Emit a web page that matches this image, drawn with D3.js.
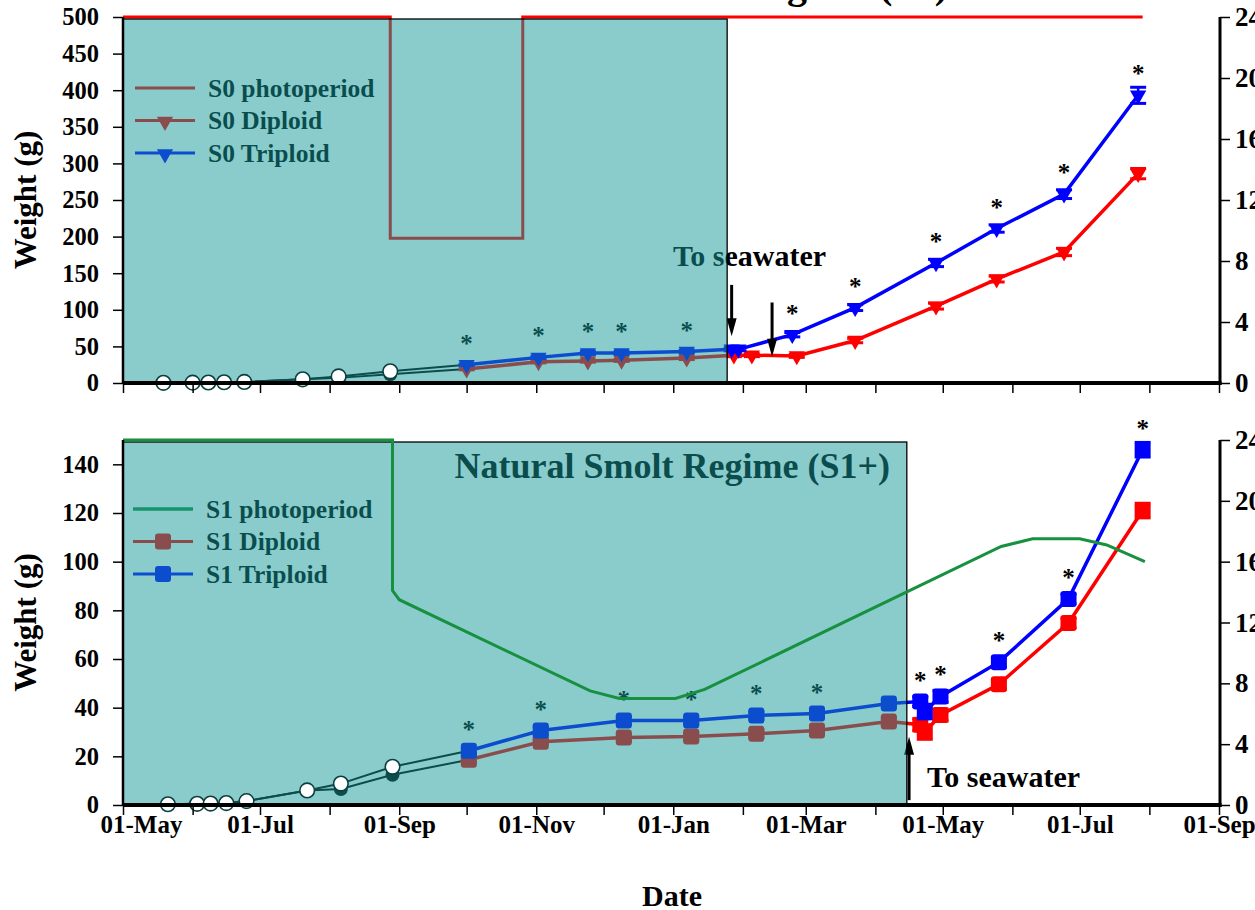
<!DOCTYPE html>
<html>
<head>
<meta charset="utf-8">
<script src="https://cdn.jsdelivr.net/npm/d3@7"></script>
<style>
body { margin: 0; overflow: hidden; background: #fff; }
text { font-family: "Liberation Serif", "Times New Roman", serif; font-weight: bold; }
</style>
</head>
<body>
<svg width="1255" height="910"></svg>
<script>
var parse = d3.timeParse("%Y-%m-%d");

// ---------- S0 panel (top) ----------
var s0PhotoDates = ["2000-05-01", "2000-08-28", "2000-08-28", "2000-10-26", "2000-10-26", "2001-07-29"];
var s0PhotoHours = [24, 24, 9.5, 9.5, 24, 24];

var s0EarlyDates = ["2000-05-19", "2000-06-01", "2000-06-08", "2000-06-15", "2000-06-24", "2000-07-20"];
var s0EarlyWeight = [0.3, 0.5, 0.7, 1, 1.5, 5];
var s0SplitDates = ["2000-08-05", "2000-08-28"];
var s0SplitDiploid = [7, 12];
var s0SplitTriploid = [9, 16];

var s0DipDates = ["2000-10-01", "2000-11-02", "2000-11-24", "2000-12-09", "2001-01-07", "2001-01-28", "2001-02-05", "2001-02-25", "2001-03-23", "2001-04-28", "2001-05-25", "2001-06-24", "2001-07-27"];
var s0DipWeight = [19, 29, 30, 31, 34, 38, 38, 37, 58, 105, 142, 179, 286];
var s0DipErr = [1, 1.5, 1.5, 1.5, 2, 2, 2, 2, 3, 4, 4, 5, 7];
var s0TriDates = ["2000-10-01", "2000-11-02", "2000-11-24", "2000-12-09", "2001-01-07", "2001-01-27", "2001-01-30", "2001-02-23", "2001-03-23", "2001-04-28", "2001-05-25", "2001-06-24", "2001-07-27"];
var s0TriWeight = [25, 35, 41, 41, 43, 46, 46, 66, 103, 164, 211, 258, 393];
var s0TriErr = [1, 1.5, 2, 2, 2, 2, 2, 3, 4, 5, 5, 6, 11];
var s0Stars = [1, 1, 1, 1, 1, 0, 0, 1, 1, 1, 1, 1, 1];

// ---------- S1 panel (bottom) ----------
var s1PhotoDates = ["2000-05-01", "2000-08-29", "2000-08-29", "2000-09-01", "2000-11-25", "2000-12-08", "2001-01-02", "2001-01-15", "2001-05-27", "2001-06-10", "2001-07-01", "2001-07-13", "2001-07-30"];
var s1PhotoHours = [24, 24, 14.1, 13.5, 7.5, 7.0, 7.0, 7.6, 17.0, 17.5, 17.5, 17.1, 16.0];

var s1EarlyDates = ["2000-05-21", "2000-06-03", "2000-06-09", "2000-06-16", "2000-06-25", "2000-07-22"];
var s1EarlyWeight = [0.3, 0.5, 0.6, 0.8, 1.6, 6];
var s1SplitDates = ["2000-08-06", "2000-08-29"];
var s1SplitDiploid = [6.6, 12.4];
var s1SplitTriploid = [8.8, 15.7];

var s1DipDates = ["2000-10-02", "2000-11-03", "2000-12-10", "2001-01-09", "2001-02-07", "2001-03-06", "2001-04-07", "2001-04-21", "2001-04-23", "2001-04-30", "2001-05-26", "2001-06-26", "2001-07-29"];
var s1DipWeight = [18.6, 26, 27.7, 28.1, 29.3, 30.6, 34.3, 33, 30, 37, 49.6, 74.8, 121];
var s1DipErr = [1, 1, 1.5, 1.5, 1.5, 1.5, 1.5, 2.5, 3, 2.5, 2, 2, 3];
var s1TriDates = ["2000-10-02", "2000-11-03", "2000-12-10", "2001-01-09", "2001-02-07", "2001-03-06", "2001-04-07", "2001-04-21", "2001-04-23", "2001-04-30", "2001-05-26", "2001-06-26", "2001-07-29"];
var s1TriWeight = [22.3, 30.6, 34.7, 34.7, 36.8, 37.6, 41.7, 42.5, 38.4, 44.6, 58.7, 84.7, 146];
var s1TriErr = [1, 1.5, 1.5, 1.5, 1.5, 1.5, 1.5, 2, 3, 2.5, 2, 2, 3];
var s1Stars = [1, 1, 1, 1, 1, 1, 0, 1, 0, 1, 1, 1, 1];

var monthFmt = d3.timeFormat("%d-%b");

// The svg
var svg = d3.select("svg");

var x = d3.scaleTime()
    .domain([parse("2000-05-01"), parse("2001-09-01")])
    .range([123, 1219]);

var overlay = "rgba(22,154,154,0.5)";
var ringStroke = "#0b3f3f";

function zip(dates, vals, errs) {
    return dates.map(function (d, i) {
        return { date: parse(d), v: vals[i], e: errs ? errs[i] : 0 };
    });
}

function panel(p) {
    var g = svg.append("g");
    var yW = d3.scaleLinear().domain([0, p.wMax]).range([p.bottom, p.top]);
    var yH = d3.scaleLinear().domain([0, 24]).range([p.bottom, p.top]);
    var lineW = d3.line().x(function (d) { return x(d.date); }).y(function (d) { return yW(d.v); });
    var lineH = d3.line().x(function (d) { return x(d.date); }).y(function (d) { return yH(d.v); });

    var photo = zip(p.photoDates, p.photoHours);

    // photoperiod under the shading (S0)
    if (!p.photoOnTop) {
        g.append("path").attr("d", lineH(photo))
            .attr("fill", "none").attr("stroke", p.photoColor).attr("stroke-width", 3);
    }

    // freshwater early samples (shared then split)
    var early = zip(p.earlyDates, p.earlyWeight);
    var dip = zip(p.dipDates, p.dipWeight, p.dipErr);
    var tri = zip(p.triDates, p.triWeight, p.triErr);
    var splitD = zip(p.splitDates, p.splitDip);
    var splitT = zip(p.splitDates, p.splitTri);

    g.append("path").attr("d", lineW(early.concat(splitD, [dip[0]])))
        .attr("fill", "none").attr("stroke", "#000").attr("stroke-width", 2);
    g.append("path").attr("d", lineW(early.concat(splitT, [tri[0]])))
        .attr("fill", "none").attr("stroke", "#000").attr("stroke-width", 2);
    g.selectAll(".fill-dot").data(splitD).enter().append("circle")
        .attr("cx", function (d) { return x(d.date); })
        .attr("cy", function (d) { return yW(d.v); })
        .attr("r", 7).attr("fill", "#000");

    // tank series
    function series(data, color, shape) {
        g.append("path").attr("d", lineW(data))
            .attr("fill", "none").attr("stroke", color).attr("stroke-width", 3.5);
        var eb = g.append("g");
        data.forEach(function (d) {
            var cx = x(d.date), y1 = yW(d.v + d.e), y2 = yW(d.v - d.e);
            eb.append("line").attr("x1", cx).attr("x2", cx).attr("y1", y1).attr("y2", y2)
                .attr("stroke", color).attr("stroke-width", 2.5);
            [y1, y2].forEach(function (yy) {
                eb.append("line").attr("x1", cx - 8).attr("x2", cx + 8).attr("y1", yy).attr("y2", yy)
                    .attr("stroke", color).attr("stroke-width", 3);
            });
        });
        if (shape === "tri") {
            g.selectAll(null).data(data).enter().append("path")
                .attr("d", d3.symbol().type(d3.symbolTriangle).size(115))
                .attr("transform", function (d) { return "translate(" + x(d.date) + "," + yW(d.v) + ") rotate(180)"; })
                .attr("fill", color);
        } else {
            g.selectAll(null).data(data).enter().append("rect")
                .attr("x", function (d) { return x(d.date) - 8; })
                .attr("y", function (d) { return yW(d.v) - 8; })
                .attr("width", 16).attr("height", 16).attr("rx", 3)
                .attr("fill", color);
        }
    }
    series(dip, "#ff0000", p.shape);
    series(tri, "#0000ff", p.shape);

    // significance stars
    g.selectAll(null).data(tri.filter(function (d, i) { return p.stars[i]; })).enter().append("text")
        .attr("x", function (d) { return x(d.date); })
        .attr("y", function (d) { return yW(d.v) - 13; })
        .attr("text-anchor", "middle").attr("font-size", 25).attr("fill", "#000")
        .text("*");

    // transfer arrows and label
    p.arrows.forEach(function (a) {
        var ax = x(parse(a.date)), yFrom = yW(a.from), yTo = yW(a.to);
        var dir = yTo > yFrom ? 1 : -1;
        g.append("line").attr("x1", ax).attr("x2", ax).attr("y1", yFrom).attr("y2", yTo - dir * 14)
            .attr("stroke", "#000").attr("stroke-width", 3);
        g.append("path")
            .attr("d", "M" + (ax - 5) + "," + (yTo - dir * 18) + "L" + (ax + 5) + "," + (yTo - dir * 18) + "L" + ax + "," + yTo + "Z")
            .attr("fill", "#000");
    });
    g.append("text").attr("x", p.seaLabel[0]).attr("y", p.seaLabel[1])
        .attr("font-size", 30).attr("fill", "#000").text("To seawater");

    // legend (sits under the shading)
    var lg = g.append("g").attr("transform", "translate(" + p.legend[0] + "," + p.legend[1] + ")");
    var items = [
        { label: p.name + " photoperiod", color: p.photoColor, mark: null },
        { label: p.name + " Diploid", color: "#ff0000", mark: p.shape },
        { label: p.name + " Triploid", color: "#0000ff", mark: p.shape }
    ];
    items.forEach(function (it, i) {
        var row = lg.append("g").attr("transform", "translate(0," + (i * 32.5) + ")");
        if (!(it.mark === null && p.photoOnTop)) {
            row.append("line").attr("x1", 0).attr("x2", 60).attr("stroke", it.color).attr("stroke-width", 3);
        }
        if (it.mark === "tri") {
            row.append("path").attr("d", d3.symbol().type(d3.symbolTriangle).size(115))
                .attr("transform", "translate(30,1) rotate(180)").attr("fill", it.color);
        } else if (it.mark === "sq") {
            row.append("rect").attr("x", 22).attr("y", -8).attr("width", 16).attr("height", 16)
                .attr("rx", 3).attr("fill", it.color);
        }
        row.append("text").attr("x", 73).attr("y", 8.5).attr("font-size", 25.5).attr("fill", "#000").text(it.label);
    });

    if (p.title) {
        g.append("text").attr("x", p.title[1]).attr("y", p.title[2]).attr("text-anchor", "end")
            .attr("font-size", 40).attr("fill", "#000").text(p.title[0]);
    }

    // freshwater shading on top, drawn semi-transparent
    var bx0 = x.range()[0], bx1 = x(parse(p.boxEnd));
    g.append("rect").attr("x", bx0).attr("y", p.top + 2)
        .attr("width", bx1 - bx0).attr("height", p.bottom - p.top - 2)
        .attr("fill", overlay).attr("stroke", "#000").attr("stroke-width", 1.3);

    // open circles over the shading
    g.selectAll(null).data(early.concat(splitT)).enter().append("circle")
        .attr("cx", function (d) { return x(d.date); })
        .attr("cy", function (d) { return yW(d.v); })
        .attr("r", 7.3).attr("fill", "#fff").attr("stroke", ringStroke).attr("stroke-width", 1.6);

    // photoperiod over the shading (S1)
    if (p.photoOnTop) {
        g.append("path").attr("d", lineH(photo))
            .attr("fill", "none").attr("stroke", p.photoColor).attr("stroke-width", 3);
        lg.append("line").attr("x1", 0).attr("x2", 60).attr("stroke", p.photoColor).attr("stroke-width", 3.5);
    }

    // axes
    var ax = g.append("g").attr("transform", "translate(" + bx0 + ",0)")
        .call(d3.axisLeft(yW).tickValues(d3.range(0, p.wMax + 1, p.wStep).filter(function (v) { return v <= p.wLabelMax; }))
            .tickSize(10).tickPadding(14).tickSizeOuter(0));
    ax.select(".domain").remove();
    ax.selectAll("text").attr("font-size", 24.5).attr("fill", "#000");
    ax.selectAll("line").attr("stroke", "#000").attr("stroke-width", 1.5);
    g.append("line").attr("x1", bx0).attr("x2", bx0).attr("y1", p.top).attr("y2", p.bottom)
        .attr("stroke", "#000").attr("stroke-width", 2.5);

    var ar = g.append("g").attr("transform", "translate(1220,0)")
        .call(d3.axisRight(yH).tickValues([0, 4, 8, 12, 16, 20, 24]).tickSize(10).tickPadding(5).tickSizeOuter(0));
    ar.select(".domain").remove();
    ar.selectAll("text").attr("font-size", 27).attr("fill", "#000");
    ar.selectAll("line").attr("stroke", "#000").attr("stroke-width", 1.5);
    g.append("line").attr("x1", 1220).attr("x2", 1220).attr("y1", p.top).attr("y2", p.bottom + 2)
        .attr("stroke", "#000").attr("stroke-width", 3);

    var axb = g.append("g").attr("transform", "translate(0," + p.bottom + ")")
        .call(d3.axisBottom(x).ticks(d3.timeMonth.every(1)).tickSize(10).tickPadding(0).tickSizeOuter(0)
            .tickFormat(function (d) { return p.showDates && d.getMonth() % 2 === 0 ? monthFmt(d) : ""; }));
    axb.select(".domain").remove();
    axb.selectAll("text").attr("font-size", 25).attr("fill", "#000");
    // first date label sits a little right of its tick, clear of the "0"
    axb.selectAll("text").filter(function (d, i) { return i === 0; }).attr("dx", 18);
    axb.selectAll("line").attr("stroke", "#000").attr("stroke-width", 1.5);
    g.append("line").attr("x1", bx0).attr("x2", 1221.5).attr("y1", p.bottom).attr("y2", p.bottom)
        .attr("stroke", "#000").attr("stroke-width", 4);

    // y title
    g.append("text")
        .attr("transform", "translate(36," + ((p.top + p.bottom) / 2) + ") rotate(-90)")
        .attr("text-anchor", "middle").attr("font-size", 31).attr("fill", "#000")
        .text("Weight (g)");
}

panel({
    name: "S0", top: 17, bottom: 383, wMax: 500, wStep: 50, wLabelMax: 500,
    photoDates: s0PhotoDates, photoHours: s0PhotoHours, photoColor: "#ff0000", photoOnTop: false,
    earlyDates: s0EarlyDates, earlyWeight: s0EarlyWeight,
    splitDates: s0SplitDates, splitDip: s0SplitDiploid, splitTri: s0SplitTriploid,
    dipDates: s0DipDates, dipWeight: s0DipWeight, dipErr: s0DipErr,
    triDates: s0TriDates, triWeight: s0TriWeight, triErr: s0TriErr,
    stars: s0Stars, shape: "tri", boxEnd: "2001-01-25",
    arrows: [{ date: "2001-01-27", from: 134, to: 64 }, { date: "2001-02-14", from: 110, to: 36 }],
    seaLabel: [673, 266], legend: [135, 88], showDates: false,
    title: ["Accelerated Smolt Regime (S0)", 948, -2]
});

panel({
    name: "S1", top: 440, bottom: 805, wMax: 150, wStep: 20, wLabelMax: 140,
    photoDates: s1PhotoDates, photoHours: s1PhotoHours, photoColor: "#17903f", photoOnTop: true,
    earlyDates: s1EarlyDates, earlyWeight: s1EarlyWeight,
    splitDates: s1SplitDates, splitDip: s1SplitDiploid, splitTri: s1SplitTriploid,
    dipDates: s1DipDates, dipWeight: s1DipWeight, dipErr: s1DipErr,
    triDates: s1TriDates, triWeight: s1TriWeight, triErr: s1TriErr,
    stars: s1Stars, shape: "sq", boxEnd: "2001-04-15",
    arrows: [{ date: "2001-04-16", from: 2, to: 28 }],
    seaLabel: [927, 787], legend: [133, 509], showDates: true,
    title: null
});

// panel title for S1 sits inside the shading
svg.append("text").attr("x", 890).attr("y", 478).attr("text-anchor", "end")
    .attr("font-size", 36).attr("fill", "#0b4d4d").text("Natural Smolt Regime (S1+)");

// x title
svg.append("text").attr("x", 672).attr("y", 906).attr("text-anchor", "middle")
    .attr("font-size", 30).attr("fill", "#000").text("Date");
</script>
</body>
</html>
